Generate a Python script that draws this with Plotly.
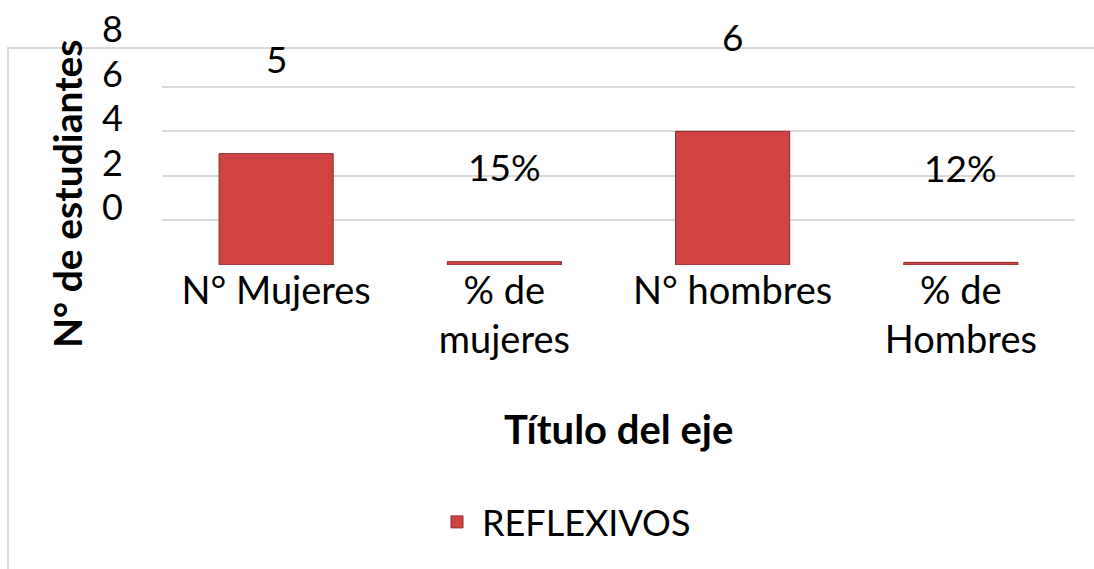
import plotly.graph_objects as go

# data
categories = ["N° Mujeres", "% de<br>mujeres", "N° hombres", "% de<br>Hombres"]
values = [5, 0.15, 6, 0.12]
value_labels = ["5", "15%", "6", "12%"]
series_name = "REFLEXIVOS"
y_ticks = [0, 2, 4, 6, 8]
grid_vals = [0, 2, 4, 6, 8]

# the original chart draws its tick labels about 2.6 units above their gridlines
tick_offset = 2.58

FONT = "Lato"
W, H = 1094, 569
L, R, T, B = 162, 19, 20, 304
plot_w = W - L - R
plot_h = H - T - B


def px_x(px):
    return (px - L) / plot_w


def px_y(py):
    return (H - B - py) / plot_h


fig = go.Figure()

fig.add_trace(go.Bar(
    x=categories,
    y=values,
    name=series_name,
    marker=dict(color="#cf4442", line=dict(color="#8e2b29", width=1)),
    showlegend=True,
))

# data labels, drawn well above the bar tops as in the original
for cat, val, lab in zip(categories, values, value_labels):
    fig.add_annotation(
        x=cat, y=val, text=lab, showarrow=False,
        yshift=95, yanchor="middle",
        font=dict(family=FONT, size=37, color="black"),
    )

# y axis title
fig.add_annotation(
    xref="paper", yref="paper", x=px_x(67), y=px_y(194),
    text="<b>N° de estudiantes</b>", textangle=-90, showarrow=False,
    xanchor="center", yanchor="middle",
    font=dict(family=FONT, size=39, color="black"),
)

# x axis title
fig.add_annotation(
    xref="paper", yref="paper", x=0.5, y=px_y(429),
    text="<b>Título del eje</b>", showarrow=False,
    xanchor="center", yanchor="middle",
    font=dict(family=FONT, size=40, color="black"),
)

# chart area border (cut off on right and bottom in the original)
fig.add_shape(
    type="rect", xref="paper", yref="paper",
    x0=px_x(8), x1=px_x(1110), y0=px_y(48), y1=px_y(600),
    line=dict(color="#d9d9d9", width=2), fillcolor="rgba(0,0,0,0)",
    layer="below",
)

fig.update_layout(
    width=W, height=H,
    margin=dict(l=L, r=R, t=T, b=B, autoexpand=False),
    paper_bgcolor="white", plot_bgcolor="white",
    bargap=0.5,
    showlegend=True,
    legend=dict(
        orientation="h", x=px_x(432), xanchor="left",
        y=px_y(522), yanchor="middle",
        font=dict(family=FONT, size=36, color="black"),
        itemwidth=40,
    ),
    font=dict(family=FONT, color="black"),
    xaxis=dict(
        showgrid=False, zeroline=False, showline=False, ticks="",
        tickfont=dict(family=FONT, size=38, color="black"),
        ticklabelstandoff=0,
    ),
    yaxis=dict(
        range=[0, 11],
        tickvals=[t + tick_offset for t in y_ticks],
        ticktext=[str(t) for t in y_ticks],
        showgrid=False, zeroline=False, showline=False, ticks="",
        tickfont=dict(family=FONT, size=36, color="black"),
        ticklabelstandoff=38,
        ticklabeloverflow="allow",
        minor=dict(tickvals=grid_vals, showgrid=True,
                   gridcolor="#d9d9d9", gridwidth=1.5, ticks=""),
    ),
)

# drop the default page margin so the figure fills the window exactly
fig.write_html("out.html", config={"displayModeBar": False},
               post_script="document.body.style.margin = '0';")
